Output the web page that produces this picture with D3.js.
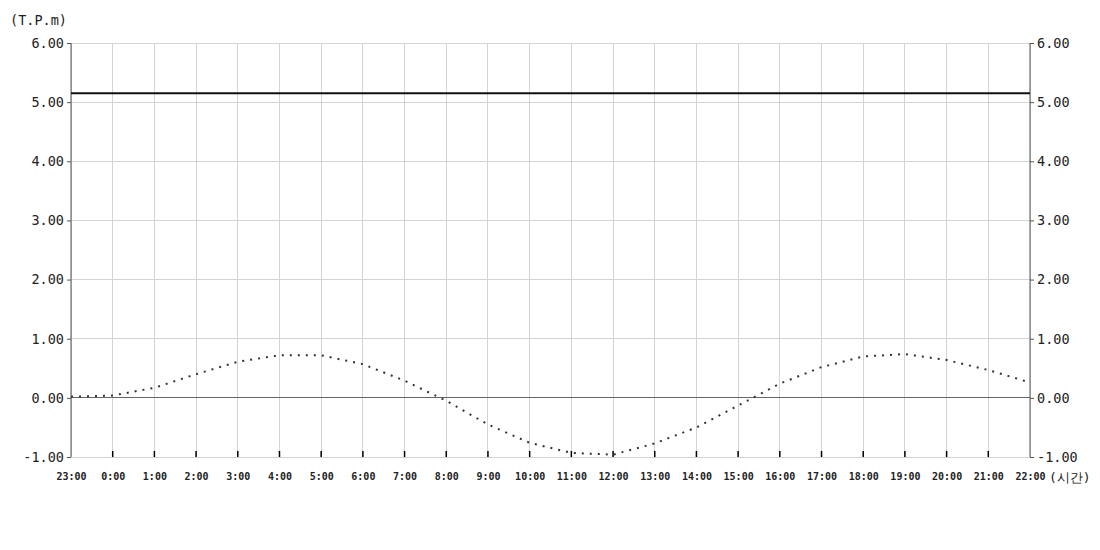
<!DOCTYPE html>
<html><head><meta charset="utf-8">
<script src="https://cdn.jsdelivr.net/npm/d3@7"></script>
<style>
html,body{margin:0;padding:0;background:#fff;}
svg{display:block;}
text{font-family:"DejaVu Sans Mono",monospace;fill:#222;}
</style></head>
<body>
<svg id="c" width="1100" height="550"></svg>
<script>
const hours = ["23:00","0:00","1:00","2:00","3:00","4:00","5:00","6:00","7:00","8:00","9:00","10:00","11:00","12:00","13:00","14:00","15:00","16:00","17:00","18:00","19:00","20:00","21:00","22:00"];
const tide = [0.02,0.04,0.17,0.40,0.61,0.72,0.72,0.57,0.29,-0.05,-0.45,-0.76,-0.93,-0.96,-0.77,-0.50,-0.13,0.24,0.52,0.70,0.74,0.64,0.47,0.26];
const levelValue = 5.15;
const yTicks = [-1,0,1,2,3,4,5,6];
const yUnit = "(T.P.m)";
const xUnit = "(시간)";

const svg = d3.select("#c");
const L = 71, R = 1030, T = 43, B = 457;
const x = d3.scalePoint().domain(hours).range([L, R]);
const y = d3.scaleLinear().domain([-1, 6]).range([B, T]);

// grid
const g = svg.append("g");
g.selectAll("line.v").data(hours).join("line")
  .attr("x1", d => x(d)).attr("x2", d => x(d)).attr("y1", T).attr("y2", B)
  .attr("stroke", "#d3d3d3").attr("stroke-width", 1).attr("shape-rendering","crispEdges");
g.selectAll("line.h").data(yTicks).join("line")
  .attr("x1", L).attr("x2", R).attr("y1", d => y(d)).attr("y2", d => y(d))
  .attr("stroke", d => d === 0 ? "#666" : "#d3d3d3").attr("stroke-width", 1).attr("shape-rendering","crispEdges");

// axes
const fmt = d => d3.format(".2f")(d).replace("\u2212", "-");
const left = svg.append("g").attr("transform", `translate(${L},0)`)
  .call(d3.axisLeft(y).tickValues(yTicks).tickFormat(fmt).tickSize(4).tickPadding(3));
const right = svg.append("g").attr("transform", `translate(${R},0)`)
  .call(d3.axisRight(y).tickValues(yTicks).tickFormat(fmt).tickSize(4).tickPadding(3));
[left, right].forEach(a => {
  a.select(".domain").attr("stroke", "#555").attr("d", `M0,${T}V${B}`);
  a.selectAll(".tick line").attr("stroke", "#555");
  a.selectAll(".tick text").attr("font-size", "13.5px").attr("fill", "#222")
    .style("font-family", '"DejaVu Sans Mono", monospace');
});
const bottom = svg.append("g").attr("transform", `translate(0,${B})`)
  .call(d3.axisBottom(x).tickSize(0).tickPadding(16));
bottom.select(".domain").remove();
bottom.selectAll(".tick text").attr("font-size", "10px").attr("font-weight", "bold").attr("fill", "#222")
  .style("font-family", '"DejaVu Sans Mono", monospace');
svg.append("g").selectAll("line").data(hours.slice(1, -1)).join("line")
  .attr("x1", d => x(d)).attr("x2", d => x(d)).attr("y1", B - 6).attr("y2", B)
  .attr("stroke", "#000").attr("stroke-width", 1.5);

// level line
svg.append("line").attr("x1", L).attr("x2", R).attr("y1", y(levelValue)).attr("y2", y(levelValue))
  .attr("stroke", "#111").attr("stroke-width", 2);

// tide dotted line
const line = d3.line().x((d, i) => x(hours[i])).y(d => y(d));
svg.append("path").datum(tide).attr("d", line).attr("fill", "none")
  .attr("stroke", "#333").attr("stroke-width", 2).attr("stroke-dasharray", "2,6");

svg.append("text").attr("x", 10).attr("y", 25).attr("font-size", "13.5px").text(yUnit);
svg.append("text").attr("x", 1049).attr("y", 482).attr("font-size", "13px").text(xUnit);
</script>
</body></html>
